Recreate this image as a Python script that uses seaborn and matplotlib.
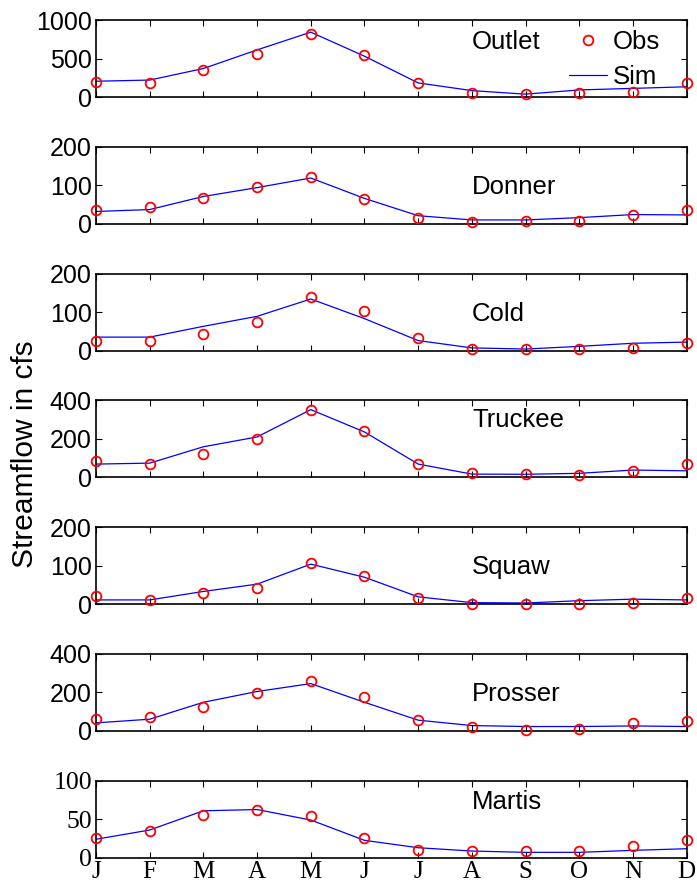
import numpy as np
import pandas as pd
import matplotlib
matplotlib.use("Agg")
import matplotlib.pyplot as plt
import seaborn as sns

# month labels and station order (top to bottom)
months = ["J", "F", "M", "A", "M", "J", "J", "A", "S", "O", "N", "D"]
stations = ["Outlet", "Donner", "Cold", "Truckee", "Squaw", "Prosser", "Martis"]

obs_outlet = [190, 185, 350, 558, 820, 550, 183, 50, 37, 58, 71, 183]
obs_donner = [37, 44, 66, 96, 122, 64, 14, 4, 6, 8, 22, 37]
obs_cold = [26, 24, 44, 73, 138, 103, 32, 4, 4, 4, 7, 19]
obs_truckee = [84, 72, 119, 198, 352, 240, 72, 21, 16, 14, 34, 71]
obs_squaw = [22, 12, 30, 42, 106, 72, 16, 1, 1, 1, 3, 16]
obs_prosser = [61, 70, 126, 198, 260, 175, 56, 18, 5, 9, 39, 53]
obs_martis = [25.7, 35, 56, 62.6, 54, 25.7, 10.4, 8.3, 8.3, 8.3, 14.8, 22.6]

# simulated monthly mean streamflow (cfs)
sim_outlet = [205, 220, 370, 612, 842, 530, 183, 83, 37, 92, 112, 133]
sim_donner = [32, 37, 71, 94, 119, 66, 21, 10, 10, 16, 24, 23]
sim_cold = [35, 35, 63, 89, 134, 83, 26, 7, 4, 11, 19, 22]
sim_truckee = [69, 74, 159, 210, 352, 236, 69, 17, 16, 21, 38, 34]
sim_squaw = [11, 11, 33, 52, 104, 70, 19, 4, 3, 9, 13, 11]
sim_prosser = [42, 61, 149, 205, 246, 149, 56, 28, 23, 23, 26, 23]
sim_martis = [24, 36, 61, 62.6, 49, 22.6, 13, 8.7, 7, 7, 9.6, 11.7]

obs_all = [obs_outlet, obs_donner, obs_cold, obs_truckee, obs_squaw, obs_prosser, obs_martis]
sim_all = [sim_outlet, sim_donner, sim_cold, sim_truckee, sim_squaw, sim_prosser, sim_martis]

# axis ranges / ticks per panel
y_max = [1000, 200, 200, 400, 200, 400, 100]
y_ticks = [[0, 500, 1000], [0, 100, 200], [0, 100, 200], [0, 200, 400],
           [0, 100, 200], [0, 200, 400], [0, 50, 100]]
label_y = [0.72, 0.48, 0.48, 0.74, 0.48, 0.48, 0.73]

sns.set_style("ticks")
plt.rcParams["font.family"] = ["Liberation Sans", "DejaVu Sans"]
# plain black text and frames, like the original
for key in ["text.color", "axes.labelcolor", "xtick.color", "ytick.color", "axes.edgecolor"]:
    plt.rcParams[key] = "black"

SANS = "Liberation Sans"
SERIF = "Liberation Serif"

fig, axes = plt.subplots(7, 1, figsize=(6.97, 8.86), dpi=100)
fig.subplots_adjust(left=0.1377, right=0.9852, top=0.9774, bottom=0.0319, hspace=0.647)

month_idx = np.arange(1, 13)

for i, ax in enumerate(axes):
    df = pd.DataFrame({"month": month_idx, "obs": obs_all[i], "sim": sim_all[i]})

    sns.lineplot(data=df, x="month", y="sim", ax=ax, color="blue", lw=0.9,
                 label="Sim", legend=False)
    sns.lineplot(data=df, x="month", y="obs", ax=ax, ls="none", marker="o",
                 markersize=7, markerfacecolor="none", markeredgecolor="red",
                 markeredgewidth=1.3, color="red", clip_on=False,
                 label="Obs", legend=False, zorder=5)

    ax.set_xlim(1, 12)
    ax.set_ylim(0, y_max[i])
    ax.set_xticks(month_idx)
    ax.set_yticks(y_ticks[i])
    ax.set_xlabel("")
    ax.set_ylabel("")
    ax.tick_params(direction="in", top=True, right=True, length=4, width=0.8,
                   pad=3, labelsize=18)
    for sp in ax.spines.values():
        sp.set_visible(True)
        sp.set_linewidth(1.2)

    is_last = i == len(axes) - 1
    if is_last:
        ax.set_xticklabels(months, fontfamily=SERIF, fontsize=18)
        for lab in ax.get_yticklabels():
            lab.set_fontfamily(SERIF)
            lab.set_fontsize(18.5)
        ax.tick_params(axis="x", pad=2)
    else:
        ax.set_xticklabels([])
        for lab in ax.get_yticklabels():
            lab.set_fontfamily(SANS)

    ax.text(8, label_y[i] * y_max[i], stations[i], ha="left", va="center",
            fontsize=18.5, fontfamily=SANS)

    if i == 0:
        h, l = ax.get_legend_handles_labels()
        order = [l.index("Obs"), l.index("Sim")]
        ax.legend([h[k] for k in order], [l[k] for k in order], frameon=False,
                  loc="upper right", bbox_to_anchor=(0.972, 1.005), borderaxespad=0,
                  handlelength=1.48, handletextpad=0.2, labelspacing=0.45,
                  prop={"family": SANS, "size": 18.5})

fig.text(0.036, 1 - 454 / 886, "Streamflow in cfs", rotation=90, ha="center",
         va="center", fontsize=21.5, fontfamily=SANS)

fig.savefig("out.png", dpi=100)
